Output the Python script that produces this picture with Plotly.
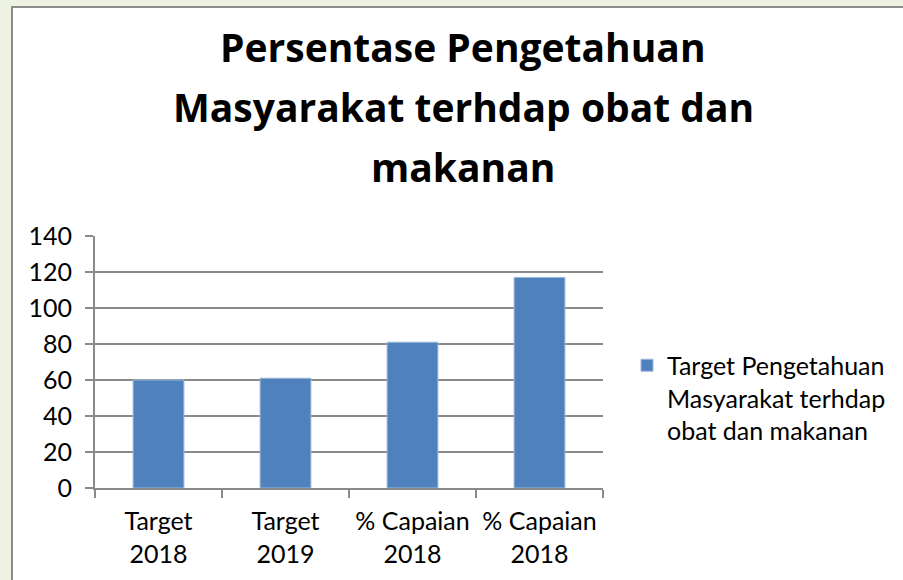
import plotly.graph_objects as go

categories = ["Target<br>2018", "Target<br>2019", "% Capaian<br>2018", "% Capaian<br>2018"]
values = [60, 61, 81, 117]
series_name = "Target Pengetahuan<br>Masyarakat terhdap<br>obat dan makanan"
title_lines = ["Persentase Pengetahuan", "Masyarakat terhdap obat dan", "makanan"]
y_ticks = [0, 20, 40, 60, 80, 100, 120, 140]

W, H = 903, 580
L, R, T, B = 95, 300, 236, 92
PW, PH = W - L - R, H - T - B

def px_x(p):
    return (p - L) / PW

def px_y(p):
    return (H - B - p) / PH

FONT = "Lato, Calibri, sans-serif"
TFONT = "Open Sans, sans-serif"
GRID = "#8a8a8a"

x_pos = list(range(len(categories)))

fig = go.Figure()
fig.add_trace(go.Bar(
    x=x_pos, y=values, name=series_name, width=0.4,
    marker=dict(color="#4f81bd", line=dict(color="#9db8da", width=1)),
    showlegend=True,
))

shapes = [dict(type="rect", xref="paper", yref="paper",
               x0=px_x(12), x1=px_x(W + 5), y0=px_y(H + 5), y1=px_y(7),
               fillcolor="white", line=dict(color="#8c8c8c", width=2), layer="below")]

annotations = []
centers = [46, 106, 166]
for txt, c in zip(title_lines, centers):
    annotations.append(dict(text="<b>" + txt + "</b>", xref="paper", yref="paper",
                            x=px_x(463), y=px_y(c), xanchor="center", yanchor="middle",
                            showarrow=False, font=dict(family=TFONT, size=39, color="black")))

fig.update_layout(
    width=W, height=H,
    margin=dict(l=L, r=R, t=T, b=B, autoexpand=False),
    paper_bgcolor="#eef2e3",
    plot_bgcolor="rgba(0,0,0,0)",
    shapes=shapes,
    annotations=annotations,
    font=dict(family=FONT, size=25, color="black"),
    bargap=0.6,
    legend=dict(x=px_x(627), y=px_y(398), xanchor="left", yanchor="middle",
                valign="top", font=dict(family=FONT, size=25, color="black"),
                bgcolor="rgba(0,0,0,0)", itemwidth=30, tracegroupgap=0),
    xaxis=dict(
        range=[-0.5, len(categories) - 0.5],
        tickmode="array", tickvals=x_pos, ticktext=categories,
        ticks="", showgrid=False, zeroline=False,
        showline=True, linecolor=GRID, linewidth=2,
        tickfont=dict(family=FONT, size=25, color="black"),
        ticklabelstandoff=10,
        minor=dict(tickmode="linear", tick0=-0.5, dtick=1, ticks="outside",
                   ticklen=8, tickwidth=2, tickcolor=GRID, showgrid=False),
        fixedrange=True,
    ),
    yaxis=dict(
        range=[0, 140], tickmode="array", tickvals=y_ticks,
        ticks="outside", ticklen=8, tickwidth=2, tickcolor=GRID,
        showgrid=True, gridcolor=GRID, gridwidth=2,
        zeroline=False, showline=True, linecolor=GRID, linewidth=2,
        tickfont=dict(family=FONT, size=25, color="black"),
        ticklabelstandoff=8,
        fixedrange=True,
    ),
)

fig.write_html("out.html", config={"displayModeBar": False},
               post_script="document.body.style.margin='0';")
